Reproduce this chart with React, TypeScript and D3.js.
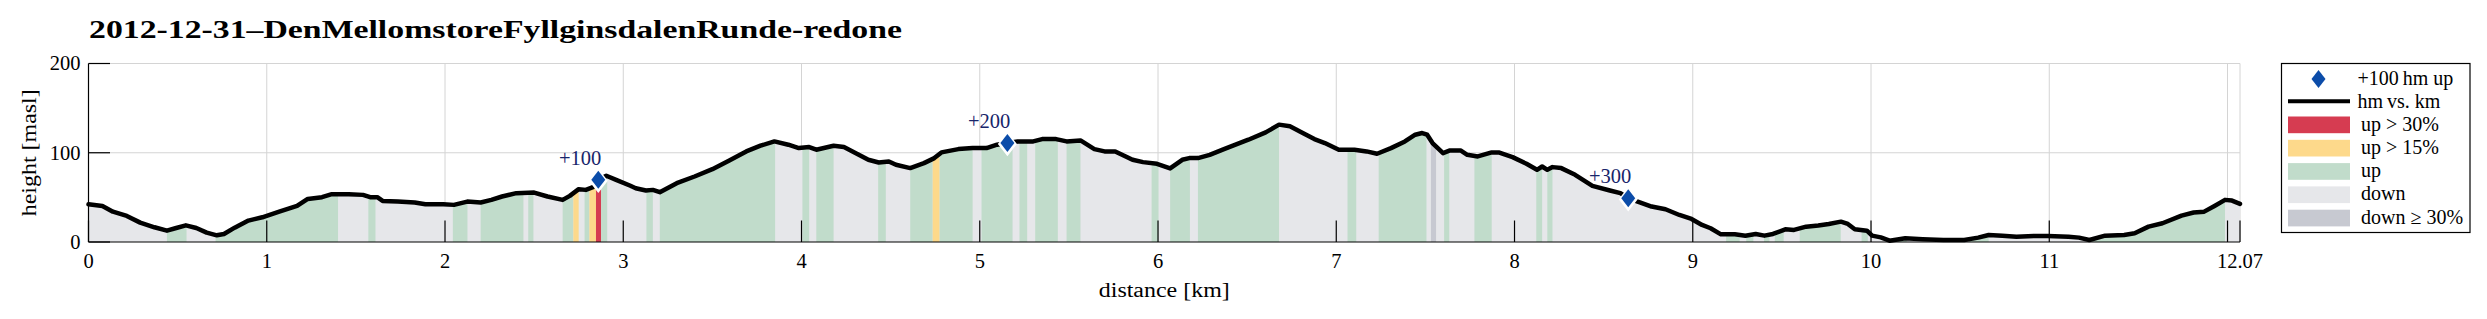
import React from 'react';
import * as d3 from 'd3';

// ---- data ----
const KM = [
  0, 0.078, 0.137, 0.215, 0.29, 0.37, 0.44, 0.487, 0.546, 0.605, 0.663, 0.72, 0.76, 0.82, 0.897, 0.975,
  1.07, 1.17, 1.23, 1.31, 1.365, 1.46, 1.54, 1.58, 1.62, 1.65, 1.735, 1.83, 1.89, 1.99, 2.05, 2.125,
  2.2, 2.26, 2.32, 2.4, 2.5, 2.575, 2.66, 2.7, 2.75, 2.79, 2.83, 2.86, 2.905, 2.96, 3.04, 3.07, 3.127,
  3.166, 3.205, 3.3, 3.4, 3.5, 3.595, 3.69, 3.77, 3.848, 3.926, 3.985, 4.043, 4.083, 4.18, 4.238, 4.297,
  4.375, 4.433, 4.49, 4.53, 4.61, 4.687, 4.745, 4.785, 4.88, 4.96, 5.038, 5.097, 5.155, 5.213, 5.3, 5.35,
  5.428, 5.487, 5.565, 5.643, 5.7, 5.76, 5.857, 5.916, 5.994, 6.068, 6.136, 6.175, 6.224, 6.29, 6.37,
  6.507, 6.604, 6.679, 6.74, 6.82, 6.877, 6.936, 7.014, 7.102, 7.17, 7.229, 7.307, 7.385, 7.443, 7.482,
  7.51, 7.54, 7.599, 7.638, 7.697, 7.735, 7.794, 7.872, 7.911, 7.989, 8.067, 8.126, 8.155, 8.184, 8.213,
  8.262, 8.34, 8.437, 8.535, 8.594, 8.638, 8.691, 8.769, 8.847, 8.925, 8.993, 9.052, 9.1, 9.158, 9.236,
  9.295, 9.353, 9.402, 9.45, 9.519, 9.568, 9.636, 9.704, 9.763, 9.831, 9.87, 9.909, 9.977, 10.006, 10.055,
  10.104, 10.192, 10.29, 10.406, 10.523, 10.601, 10.66, 10.737, 10.816, 10.913, 10.991, 11.108, 11.167,
  11.225, 11.313, 11.42, 11.479, 11.557, 11.635, 11.742, 11.81, 11.869, 11.927, 11.986, 12.025, 12.07,
];
const ELEV = [
  42.3, 40.4, 34, 29.2, 21.7, 16.5, 12.7, 15.4, 18.7, 15.7, 10.5, 7.5, 9, 16.1, 24, 27.7,
  34, 40.4, 48.3, 50.2, 53.6, 53.6, 52.8, 50.2, 50.2, 46, 45.3, 44.2, 42.3, 42.3, 41.6, 45.3,
  44.2, 47.2, 51, 54.7, 55.4, 51, 47.2, 51.7, 59.2, 58.4, 61.4, 69.7, 74.2, 69.7, 63, 60.3, 57.7,
  58.4, 55.8, 65.9, 73.4, 81.6, 91.4, 101.5, 107.9, 112.7, 109, 105.2, 106.4, 103.4, 107.9, 106.4, 100.4,
  92.1, 89.1, 90.3, 86.5, 82.8, 88.4, 94, 100.4, 104.1, 105.2, 105.2, 109, 110.9, 112.7, 112.7, 115.3,
  115.3, 112.7, 113.8, 104.1, 101.5, 101.5, 92.1, 89.5, 87.6, 82.5, 92.1, 94, 94, 97.7, 104.1,
  114.6, 122.8, 131.5, 129.6, 121.3, 115.3, 110.9, 103.4, 103.4, 101.5, 98.9, 105.2, 112.7, 120.2, 122.1,
  120.2, 110.9, 99.6, 102.6, 102.6, 97.7, 95.9, 100.4, 100.4, 95.1, 87.6, 80.9, 84.6, 80.9, 83.9,
  82.8, 75.3, 62.9, 57.7, 54.7, 49.1, 45.3, 39.7, 36.7, 30.3, 25.8, 19.1, 15.4, 8.6, 8.6,
  7.1, 9, 7.1, 9, 14.2, 13.5, 17.2, 18.4, 20.2, 22.8, 20.2, 14.2, 12.7, 7.1, 5.2,
  1.5, 4.1, 3, 2.2, 2.2, 4.9, 7.9, 7.1, 6, 6.7, 6.7, 6, 4.9,
  2.2, 7.1, 7.9, 9.7, 17.2, 21, 29.6, 33, 34, 40.4, 47.2, 46.4, 42.7,
];

// slope-class segments (everything else is "down")
const SEG_START = [
  0.44, 0.713, 1.57, 2.044, 2.2, 2.467, 2.66, 2.72, 2.783, 2.81, 2.847, 2.876, 3.13, 3.205, 4.005, 4.083,
  4.43, 4.61, 4.736, 4.775, 5.01, 5.223, 5.311, 5.487, 5.964, 6.068, 6.224, 7.063, 7.238, 7.531, 7.605,
  7.775, 8.122, 8.184, 9.187, 9.3, 9.4, 9.46, 9.6, 9.947, 10.15, 10.55, 11.24,
];
const SEG_END = [
  0.55, 1.4, 1.61, 2.126, 2.44, 2.496, 2.72, 2.75, 2.81, 2.847, 2.876, 2.91, 3.166, 3.852, 4.043, 4.18,
  4.473, 4.736, 4.775, 4.96, 5.184, 5.266, 5.438, 5.565, 6.003, 6.179, 6.679, 7.112, 7.506, 7.56, 7.634,
  7.872, 8.155, 8.213, 9.263, 9.34, 9.43, 9.51, 9.83, 9.982, 10.2, 10.66, 11.986,
];
const SEG_TYPE = [
  'up', 'up', 'up', 'up', 'up', 'up', 'up', 'up15', 'up', 'up15', 'up30', 'up', 'up', 'up', 'up', 'up',
  'up', 'up', 'up15', 'up', 'up', 'up', 'up', 'up', 'up', 'up', 'up', 'up', 'up', 'down30', 'up',
  'up', 'up', 'up', 'up', 'up', 'up', 'up', 'up', 'up', 'up', 'up', 'up',
];

const HM_KM = [2.86, 5.155, 8.638];
const HM_LABEL = ['+100', '+200', '+300'];

const X_TICKS = [0, 1, 2, 3, 4, 5, 6, 7, 8, 9, 10, 11, 12, 12.07];
const X_TICK_LABELS = ['0', '1', '2', '3', '4', '5', '6', '7', '8', '9', '10', '11', '', '12.07'];
const Y_TICKS = [0, 100, 200];

const LEGEND_LABELS = ['+100\u2009hm up', 'hm\u2009vs. km', 'up > 30%', 'up > 15%', 'up', 'down', 'down \u2265 30%'];

const COLORS: Record<string, string> = {
  up30: '#d63c51',
  up15: '#fdd98b',
  up: '#c1dccb',
  down: '#e6e7ea',
  down30: '#c7c9d1',
};

const TITLE = '2012-12-31\u2013DenMellomstoreFyllginsdalenRunde-redone';
const FONT = '"Liberation Serif", "Times New Roman", serif';

export default function App() {
  const W = 2487;
  const H = 319;
  const left = 88.5;
  const right = 2240;
  const top = 63.5;
  const bottom = 242;

  const x = d3.scaleLinear().domain([0, 12.07]).range([left, right]);
  const y = d3.scaleLinear().domain([0, 200]).range([bottom, top]);
  const elevAt = d3.scaleLinear().domain(KM).range(ELEV);

  const pts: [number, number][] = KM.map((k, i) => [k, ELEV[i]]);

  const area = d3
    .area<[number, number]>()
    .x((d) => x(d[0]))
    .y0(y(0))
    .y1((d) => y(d[1]));
  const line = d3
    .line<[number, number]>()
    .x((d) => x(d[0]))
    .y((d) => y(d[1]));

  const segPts = (a: number, b: number): [number, number][] => {
    const inner = pts.filter((p) => p[0] > a && p[0] < b);
    return [[a, elevAt(a)], ...inner, [b, elevAt(b)]];
  };

  const tickLen = 21.5;
  const grid = '#d4d4d4';

  const legX = 2281.5;
  const legY = 63.5;
  const patchX = 2288;
  const patchW = 62;
  const patchYs = [116.5, 139.8, 163.1, 186.4, 209.7];
  const patchTypes = ['up30', 'up15', 'up', 'down', 'down30'];

  const diamond = (cx: number, cy: number) =>
    `M${cx},${cy - 9} L${cx + 7},${cy} L${cx},${cy + 9} L${cx - 7},${cy} Z`;

  return (
    <svg
      width={W}
      height={H}
      style={{ position: 'absolute', left: 0, top: 0, background: '#fff' }}
      fontFamily={FONT}
    >
      <rect x={0} y={0} width={W} height={H} fill="#fff" />
      {/* title */}
      <text x={89} y={38} fontSize={26} fontWeight="bold" textLength={813} lengthAdjust="spacingAndGlyphs">
        {TITLE}
      </text>

      {/* grid */}
      {X_TICKS.filter((t) => t > 0).map((t) => (
        <line key={'gx' + t} x1={x(t)} x2={x(t)} y1={y(200)} y2={y(0)} stroke={grid} strokeWidth={1} />
      ))}
      {Y_TICKS.filter((t) => t > 0).map((t) => (
        <line key={'gy' + t} x1={x(0)} x2={x(12.07)} y1={y(t)} y2={y(t)} stroke={grid} strokeWidth={1} />
      ))}

      {/* fills */}
      <path d={area(pts) || ''} fill={COLORS.down} />
      {SEG_START.map((a, i) => (
        <path key={'s' + i} d={area(segPts(a, SEG_END[i])) || ''} fill={COLORS[SEG_TYPE[i]]} />
      ))}

      {/* profile line */}
      <path d={line(pts) || ''} fill="none" stroke="#000" strokeWidth={4.5} strokeLinejoin="round" strokeLinecap="round" />

      {/* axes */}
      <line x1={left} x2={left} y1={top} y2={bottom} stroke="#000" strokeWidth={1.2} />
      <line x1={left} x2={right} y1={bottom} y2={bottom} stroke="#000" strokeWidth={1.2} />
      {X_TICKS.map((t, i) => (
        <g key={'xt' + t}>
          <line x1={x(t)} x2={x(t)} y1={bottom} y2={bottom - tickLen} stroke="#000" strokeWidth={1.2} />
          <text x={x(t)} y={268} fontSize={20.5} textAnchor="middle">
            {X_TICK_LABELS[i]}
          </text>
        </g>
      ))}
      {Y_TICKS.map((t) => (
        <g key={'yt' + t}>
          <line x1={left} x2={left + tickLen} y1={y(t)} y2={y(t)} stroke="#000" strokeWidth={1.2} />
          <text x={80.5} y={y(t) + 6.8} fontSize={20.5} textAnchor="end">
            {t}
          </text>
        </g>
      ))}
      <text x={(left + right) / 2} y={296.5} fontSize={20} textAnchor="middle" textLength={131} lengthAdjust="spacingAndGlyphs">
        distance [km]
      </text>
      <text
        transform={`translate(36,${(top + bottom) / 2}) rotate(-90)`}
        fontSize={20}
        textAnchor="middle"
        textLength={127}
        lengthAdjust="spacingAndGlyphs"
      >
        height [masl]
      </text>

      {/* +100 hm markers */}
      {HM_KM.map((k, i) => {
        const cx = x(k);
        const cy = y(elevAt(k));
        return (
          <g key={'hm' + i}>
            <path d={diamond(cx, cy + 1)} fill="#fff" stroke="#fff" strokeWidth={4} />
            <path d={diamond(cx, cy)} fill="#0b4ca9" />
            <text x={cx + 3} y={cy - 15} fontSize={20.5} textAnchor="end" fill="#17256a">
              {HM_LABEL[i]}
            </text>
          </g>
        );
      })}

      {/* legend */}
      <rect x={legX} y={legY} width={188.5} height={169} fill="#fff" stroke="#000" strokeWidth={1.2} />
      <path d={diamond(2318.5, 79)} fill="#0b4ca9" />
      <line x1={patchX} x2={patchX + patchW} y1={101.3} y2={101.3} stroke="#000" strokeWidth={4} />
      <text x={2357.5} y={85} fontSize={20}>
        {LEGEND_LABELS[0]}
      </text>
      <text x={2357.5} y={107.5} fontSize={20}>
        {LEGEND_LABELS[1]}
      </text>
      {patchTypes.map((t, i) => (
        <g key={'lg' + t}>
          <rect x={patchX} y={patchYs[i]} width={patchW} height={16.7} fill={COLORS[t]} />
          <text x={2361} y={patchYs[i] + 14} fontSize={20}>
            {LEGEND_LABELS[i + 2]}
          </text>
        </g>
      ))}
    </svg>
  );
}
